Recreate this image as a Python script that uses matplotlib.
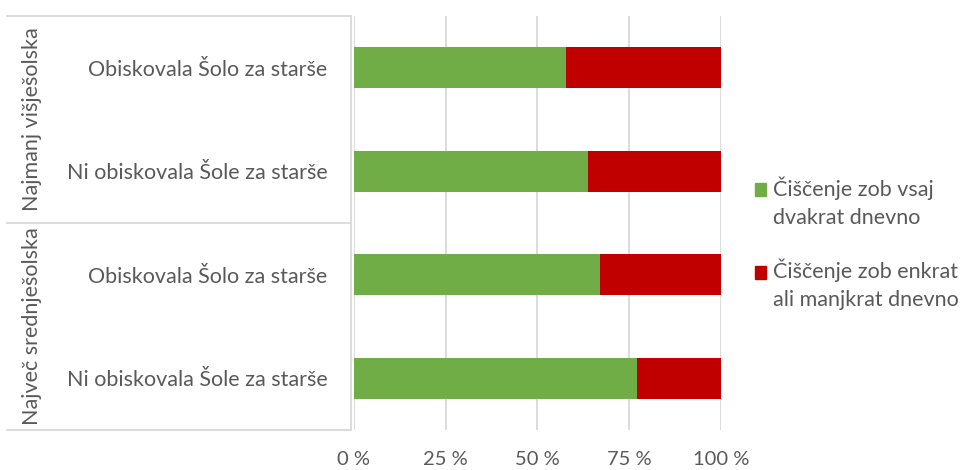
import matplotlib.pyplot as plt
from matplotlib.patches import Rectangle

plt.rcParams['font.family'] = ['Lato', 'DejaVu Sans']

# data (top to bottom)
groups = ['Najmanj višješolska', 'Največ srednješolska']
categories = ['Obiskovala Šolo za starše', 'Ni obiskovala Šole za starše',
              'Obiskovala Šolo za starše', 'Ni obiskovala Šole za starše']
twice_daily = [57.8, 63.8, 67.0, 77.1]
once_or_less = [42.2, 36.2, 33.0, 22.9]
series_names = ['Čiščenje zob vsaj\ndvakrat dnevno',
                'Čiščenje zob enkrat\nali manjkrat dnevno']
colors = ['#70AD47', '#C00000']
ticks = [0, 25, 50, 75, 100]

text_col = '#595959'
grid_col = '#D9D9D9'
fs = 15.5

fig = plt.figure(figsize=(9.7, 4.7), dpi=100)
ax = fig.add_axes([354 / 970, 40 / 470, 367 / 970, 414 / 470])

y = list(range(len(categories)))[::-1]
ax.barh(y, twice_daily, height=0.4, color=colors[0], zorder=3)
ax.barh(y, once_or_less, left=twice_daily, height=0.4, color=colors[1], zorder=3)

ax.set_xlim(0, 100)
ax.set_ylim(-0.5, len(categories) - 0.5)
ax.set_xticks(ticks)
ax.set_xticklabels([f'{t} %' for t in ticks], fontsize=14.5, color=text_col)
ax.tick_params(axis='x', length=0, pad=15)
ax.set_yticks(y)
ax.set_yticklabels(categories, fontsize=fs, color=text_col)
ax.tick_params(axis='y', length=0, pad=19)
ax.grid(axis='x', color=grid_col, linewidth=1.3, zorder=0)
for s in ax.spines.values():
    s.set_visible(False)

# category table lines
lx0, lx1 = -0.945, -0.008
lk = dict(color=grid_col, linewidth=1.3, transform=ax.transAxes, clip_on=False)
ax.plot([lx0, lx1], [1, 1], **lk)
ax.plot([lx0, lx1], [0.5, 0.5], **lk)
ax.plot([lx0, lx1], [0, 0], **lk)
ax.plot([lx1, lx1], [0, 1], **lk)
ax.text(-0.877, 0.75, groups[0], rotation=90, ha='center', va='center',
        fontsize=fs, color=text_col, transform=ax.transAxes)
ax.text(-0.877, 0.25, groups[1], rotation=90, ha='center', va='center',
        fontsize=fs, color=text_col, transform=ax.transAxes)

# legend
for i, (name, c) in enumerate(zip(series_names, colors)):
    ymid = (470 - 190 - i * 83) / 470
    fig.patches.append(Rectangle((755 / 970, ymid - 6 / 470), 11 / 970, 13 / 470,
                                 transform=fig.transFigure, color=c))
    fig.text(773 / 970, ymid + 14 / 470, name, fontsize=fs, color=text_col,
             va='top', ha='left', linespacing=1.5)

fig.savefig('out.png', dpi=100)
